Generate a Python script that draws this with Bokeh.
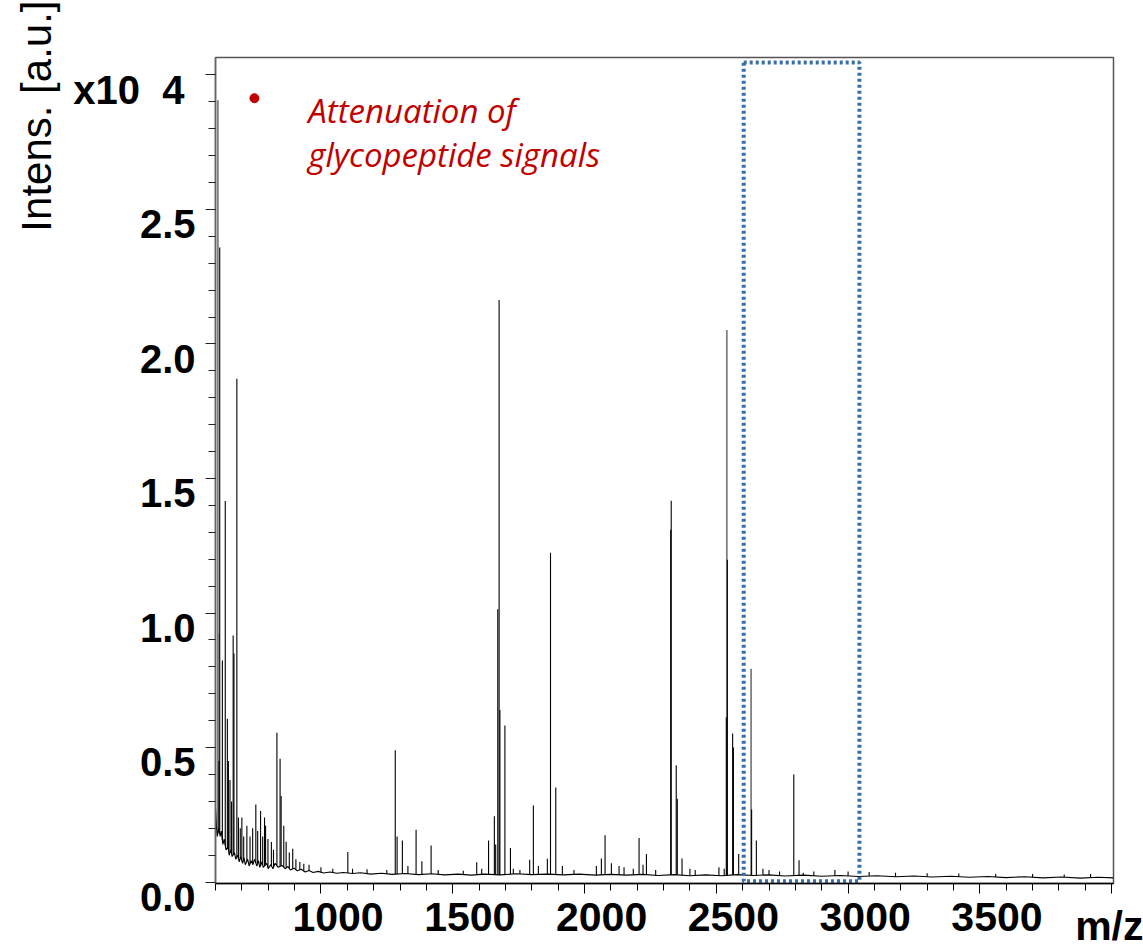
import numpy as np
from bokeh.plotting import figure
from bokeh.models import Range1d, FixedTicker, Label, Title
from bokeh.embed import file_html
from bokeh.resources import INLINE

# ---------------- data (intensity in units of 10^4 a.u.) ----------------
base_mz = [600, 604, 607, 612, 618, 622, 628, 633, 640, 648, 652, 658, 663, 672, 677, 684, 690, 695,
           703, 708, 713, 722, 728, 735, 742, 748, 757, 763, 768, 776, 781, 795, 800, 810, 818, 826,
           838, 852, 864, 875, 884, 898, 910, 925, 940, 955, 970, 990, 1010, 1035, 1060, 1085, 1120,
           1150, 1190, 1230, 1270, 1320, 1370, 1420, 1470, 1520, 1570, 1620, 1680, 1740, 1800, 1860,
           1920, 1980, 2040, 2100, 2160, 2220, 2280, 2340, 2400, 2460, 2520, 2580, 2640, 2700, 2760,
           2830, 2900, 2970, 3040, 3110, 3180, 3250, 3320, 3390, 3460, 3530, 3600, 3670, 3740, 3810,
           3880, 3950, 4007]
base_int = [0.28, 0.20, 0.17, 0.20, 0.17, 0.19, 0.14, 0.16, 0.12, 0.13, 0.10, 0.12, 0.095, 0.11, 0.085,
            0.10, 0.075, 0.095, 0.07, 0.09, 0.065, 0.085, 0.06, 0.08, 0.065, 0.085, 0.06, 0.08, 0.055,
            0.075, 0.055, 0.07, 0.05, 0.065, 0.05, 0.07, 0.055, 0.062, 0.05, 0.058, 0.045, 0.052, 0.042,
            0.048, 0.038, 0.043, 0.036, 0.04, 0.034, 0.038, 0.033, 0.036, 0.032, 0.035, 0.03, 0.033,
            0.029, 0.032, 0.028, 0.031, 0.027, 0.03, 0.026, 0.03, 0.027, 0.031, 0.028, 0.03, 0.027,
            0.03, 0.026, 0.029, 0.026, 0.029, 0.025, 0.028, 0.024, 0.027, 0.024, 0.028, 0.025, 0.027,
            0.023, 0.026, 0.022, 0.025, 0.021, 0.024, 0.02, 0.023, 0.019, 0.022, 0.018, 0.021, 0.017,
            0.02, 0.016, 0.019, 0.015, 0.018, 0.016]

peak_mz = [613, 616, 626, 637, 645, 649, 655, 661, 667, 670, 681, 687, 694, 700, 707, 719, 731, 741,
           753, 760, 771, 779, 786, 790, 799, 812, 820, 833, 845, 849, 859, 868, 880, 893, 905, 920,
           935, 955, 1000, 1045, 1102, 1120, 1175, 1250, 1282, 1289, 1309, 1330, 1361, 1383, 1418,
           1445, 1540, 1591, 1610, 1636, 1658, 1663, 1671, 1676, 1679, 1698, 1719, 1730, 1755, 1792,
           1806, 1825, 1859, 1871, 1891, 1916, 1960, 2045, 2064, 2078, 2102, 2131, 2150, 2185, 2207,
           2222, 2235, 2270, 2327, 2329, 2348, 2352, 2370, 2400, 2420, 2510, 2530, 2538, 2542, 2562,
           2565, 2585, 2634, 2652, 2677, 2700, 2740, 2794, 2814, 2830, 2870, 2950, 3000, 3080, 3180,
           3300, 3420, 3560, 3700, 3820, 3920]
peak_int = [0.45, 2.358, 0.824, 1.416, 0.607, 0.45, 0.38, 0.30, 0.917, 0.85, 1.871, 0.24, 0.20, 0.24,
            0.17, 0.21, 0.17, 0.20, 0.289, 0.19, 0.264, 0.17, 0.24, 0.21, 0.16, 0.149, 0.12, 0.555,
            0.459, 0.32, 0.21, 0.15, 0.11, 0.124, 0.085, 0.075, 0.068, 0.065, 0.055, 0.05, 0.112, 0.05,
            0.048, 0.045, 0.49, 0.17, 0.155, 0.06, 0.195, 0.078, 0.136, 0.045, 0.042, 0.074, 0.05,
            0.155, 0.245, 0.14, 1.014, 2.163, 0.64, 0.582, 0.127, 0.05, 0.045, 0.083, 0.285, 0.06,
            0.087, 1.224, 0.352, 0.06, 0.045, 0.06, 0.088, 0.174, 0.07, 0.06, 0.055, 0.05, 0.164,
            0.065, 0.105, 0.045, 1.31, 1.417, 0.434, 0.31, 0.088, 0.05, 0.045, 0.055, 0.05, 0.613,
            1.198, 0.552, 0.50, 0.105, 0.27, 0.155, 0.05, 0.045, 0.04, 0.40, 0.081, 0.035, 0.04, 0.045,
            0.04, 0.038, 0.035, 0.033, 0.032, 0.03, 0.03, 0.028, 0.03]

gray_mz = [609, 611, 2540, 2632]
gray_int = [2.906, 0.925, 2.052, 0.793]

x_ticks = [1000, 1500, 2000, 2500, 3000, 3500]
x_tick_labels = ["1000", "1500", "2000", "2500", "3000", "3500"]
x_title = "m/z"
y_ticks = [0.0, 0.5, 1.0, 1.5, 2.0, 2.5]
y_tick_labels = ["0.0", "0.5", "1.0", "1.5", "2.0", "2.5"]
y_exponent = ("x10", "4")
y_title = "Intens. [a.u.]"
note_lines = ["Attenuation of", "glycopeptide signals"]
box_mz = [2604, 3043]
box_int = [0.003, 3.046]

# ---------------- geometry ----------------
W, H = 1143, 951
FL, FT, FR, FB = 213, 57, 1113, 883  # frame edges in pixels
X0, X1 = 600, 4007
Y0, Y1 = -0.005, 3.0645
PX_X = (X1 - X0) / (FR - FL)
PX_Y = (Y1 - Y0) / (FB - FT)


def sx(px):
    return X0 + (px - FL) * PX_X


def sy(py):
    return Y0 + (FB - py) * PX_Y


NB = "\u00a0"
FONT = "Liberation Sans"

p = figure(width=W, height=H, x_range=Range1d(X0, X1), y_range=Range1d(Y0, Y1),
           output_backend="svg", toolbar_location=None,
           min_border_left=FL, min_border_right=W - FR, min_border_top=FT, min_border_bottom=H - FB)
p.grid.visible = False
p.outline_line_color = "#555555"
p.outline_line_width = 1.5
p.background_fill_color = "white"
p.border_fill_color = "white"

# ---- x axis ----
xa = p.xaxis[0]
xa.ticker = FixedTicker(ticks=x_ticks + [4000], minor_ticks=list(range(600, 4001, 100)))
over_x = {t: NB * 3 + lab for t, lab in zip(x_ticks, x_tick_labels)}
over_x[4000] = NB + "\n" + x_title
xa.major_label_overrides = over_x
xa.major_label_standoff = 0
xa.major_label_text_font = FONT
xa.major_label_text_font_size = "41px"
xa.major_label_text_font_style = "bold"
xa.major_label_text_color = "black"
xa.major_label_text_line_height = 0.2
xa.axis_line_color = "black"
xa.axis_line_width = 1.5
xa.major_tick_line_color = "black"
xa.minor_tick_line_color = "black"
xa.major_tick_out = 10
xa.major_tick_in = 0
xa.minor_tick_out = 7
xa.minor_tick_in = 0

# ---- y axis ----
ya = p.yaxis[0]
ya.ticker = FixedTicker(ticks=y_ticks + [3.0], minor_ticks=[round(0.1 * i, 1) for i in range(31)])
over_y = {t: NB + "\n" + lab for t, lab in zip(y_ticks, y_tick_labels)}
over_y[3.0] = NB + "\n" + y_exponent[0] + NB * 2 + y_exponent[1] + NB
ya.major_label_overrides = over_y
ya.major_label_standoff = 10
ya.major_label_text_font = FONT
ya.major_label_text_font_size = "40px"
ya.major_label_text_font_style = "bold"
ya.major_label_text_color = "black"
ya.major_label_text_line_height = 0.674
ya.axis_line_color = "#666666"
ya.axis_line_width = 1.5
ya.major_tick_line_color = "#222222"
ya.minor_tick_line_color = "#222222"
ya.major_tick_out = 10
ya.major_tick_in = 0
ya.minor_tick_out = 7
ya.minor_tick_in = 0

# y title (rotated, top-aligned, extends above the frame)
p.add_layout(Title(text=y_title, align="right", offset=-57, standoff=21, text_font=FONT,
                   text_font_size="42px", text_font_style="normal", text_color="black"), "left")

# ---------------- spectrum ----------------
gray_base = np.interp(gray_mz, base_mz, base_int)
p.segment(x0=gray_mz, y0=gray_base, x1=gray_mz, y1=gray_int, line_color="#808080", line_width=1.8)
p.line(base_mz, base_int, line_color="black", line_width=1.1)
peak_base = np.interp(peak_mz, base_mz, base_int)
p.segment(x0=peak_mz, y0=peak_base, x1=peak_mz, y1=peak_int, line_color="black", line_width=1.1)

# dotted highlight box
p.quad(left=[box_mz[0]], right=[box_mz[1]], bottom=[box_int[0]], top=[box_int[1]],
       fill_alpha=0, line_color="#3A6EA8", line_width=4, line_dash="3 3")

# bullet + annotation text
p.scatter([sx(252)], [sy(97.7)], size=9, color="#C00000", marker="circle")
for txt, py in zip(note_lines, [110, 154]):
    p.add_layout(Label(x=sx(306), y=sy(py), text=txt, text_font="Open Sans",
                       text_font_style="italic", text_font_size="33px", text_color="#C00000",
                       text_align="left", text_baseline="alphabetic"))

open("out.html", "w").write(file_html(p, INLINE))
